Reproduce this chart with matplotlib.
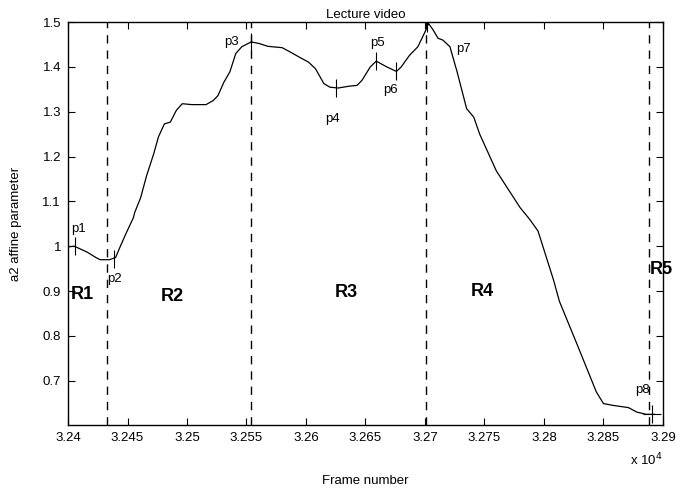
import numpy as np
import matplotlib
matplotlib.use('Agg')
import matplotlib.pyplot as plt

plt.rcParams['font.family'] = ['Liberation Sans', 'DejaVu Sans']

# curve: frame number vs a2 affine parameter
frames = [32401, 32405, 32407, 32416, 32424, 32427, 32435, 32440, 32444, 32449,
          32455, 32456, 32461, 32466, 32472, 32476, 32481, 32486, 32491, 32496,
          32504, 32516, 32522, 32526, 32531, 32536, 32541, 32546, 32554, 32561,
          32568, 32580, 32587, 32595, 32602, 32608, 32615, 32620, 32627, 32636,
          32643, 32647, 32654, 32659, 32668, 32676, 32680, 32687, 32694, 32700,
          32703, 32707, 32711, 32715, 32721, 32727, 32735, 32741, 32746, 32760,
          32769, 32780, 32788, 32795, 32808, 32813, 32828, 32844, 32850, 32858,
          32871, 32878, 32886, 32893]
a2 = [0.999, 1.000, 0.998, 0.987, 0.974, 0.970, 0.970, 0.975, 1.000, 1.030,
      1.064, 1.075, 1.108, 1.157, 1.206, 1.244, 1.273, 1.277, 1.303, 1.318,
      1.316, 1.316, 1.325, 1.336, 1.366, 1.389, 1.430, 1.445, 1.456, 1.452,
      1.446, 1.443, 1.433, 1.421, 1.411, 1.396, 1.363, 1.355, 1.353, 1.357,
      1.359, 1.370, 1.400, 1.413, 1.400, 1.390, 1.400, 1.426, 1.445, 1.478,
      1.497, 1.482, 1.464, 1.460, 1.445, 1.389, 1.307, 1.288, 1.250, 1.168,
      1.131, 1.086, 1.060, 1.034, 0.925, 0.877, 0.780, 0.675, 0.649, 0.645,
      0.640, 0.630, 0.625, 0.625]

# key points
pt_names = ['p1', 'p2', 'p3', 'p4', 'p5', 'p6', 'p7', 'p8']
pt_frames = [32406, 32439, 32554, 32625, 32659, 32676, 32702, 32891]
pt_vals = [1.000, 0.972, 1.456, 1.353, 1.413, 1.390, 1.497, 0.625]
pt_label_x = [32409, 32439, 32537, 32622, 32660, 32671, 32732, 32883]
pt_label_y = [1.038, 0.926, 1.455, 1.285, 1.453, 1.348, 1.439, 0.679]

# region boundaries and labels
boundaries = [32433, 32554, 32701, 32888]
regions = ['R1', 'R2', 'R3', 'R4', 'R5']
region_x = [32412, 32488, 32634, 32748, 32899]
region_y = [0.892, 0.888, 0.897, 0.899, 0.948]

xticks = [32400, 32450, 32500, 32550, 32600, 32650, 32700, 32750, 32800, 32850, 32900]
xticklabels = ['3.24', '3.245', '3.25', '3.255', '3.26', '3.265', '3.27', '3.275', '3.28', '3.285', '3.29']
yticks = [0.7, 0.8, 0.9, 1.0, 1.1, 1.2, 1.3, 1.4, 1.5]
yticklabels = ['0.7', '0.8', '0.9', '1', '1.1', '1.2', '1.3', '1.4', '1.5']

fig = plt.figure(figsize=(6.87, 4.92), dpi=100)
ax = fig.add_axes([0.099, 0.136, 0.866, 0.819])

ax.plot(frames, a2, color='black', linewidth=0.9)

for b in boundaries:
    ax.axvline(b, color='black', linestyle=(0, (6, 5)), linewidth=1.0)

for i in range(len(pt_names)):
    m = '+' if pt_names[i] == 'p8' else '|'
    ax.plot(pt_frames[i], pt_vals[i], marker=m, color='black', markersize=13, mew=0.8)
    ax.text(pt_label_x[i], pt_label_y[i], pt_names[i], fontsize=9.5, ha='center', va='center')

for i in range(len(regions)):
    ax.text(region_x[i], region_y[i], regions[i], fontsize=13, fontweight='bold',
            ha='center', va='center', clip_on=False)

ax.set_xlim(32400, 32900)
ax.set_ylim(0.601, 1.5)
ax.set_xticks(xticks)
ax.set_xticklabels(xticklabels)
ax.set_yticks(yticks)
ax.set_yticklabels(yticklabels)
ax.tick_params(direction='in', top=True, right=True, labelsize=9.5, length=5, width=0.8, pad=5)
for s in ax.spines.values():
    s.set_linewidth(1.0)

ax.set_title('Lecture video', fontsize=9.5, pad=3)
ax.set_xlabel('Frame number', fontsize=9.5, labelpad=22)
ax.set_ylabel('a2 affine parameter', fontsize=9.5, labelpad=15)
fig.text(0.965, 0.065, 'x 10$^4$', fontsize=9.5, ha='right', va='center')

fig.savefig('out.png', dpi=100)
